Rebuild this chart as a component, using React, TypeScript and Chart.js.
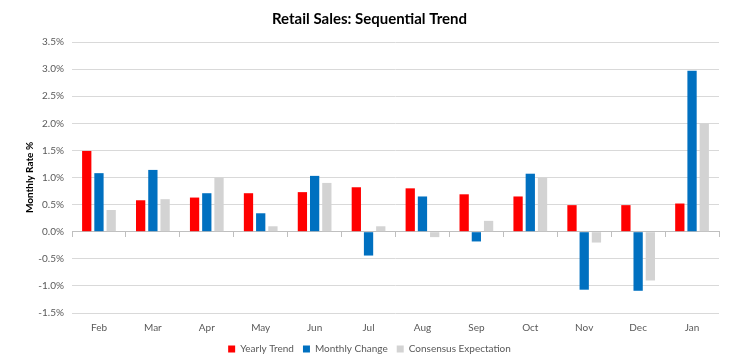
import React, { useEffect, useRef } from "react";
import { Chart, registerables } from "chart.js";

Chart.register(...registerables);

const categories = ["Feb", "Mar", "Apr", "May", "Jun", "Jul", "Aug", "Sep", "Oct", "Nov", "Dec", "Jan"];
const yearlyTrend = [1.49, 0.58, 0.63, 0.71, 0.73, 0.82, 0.8, 0.69, 0.65, 0.49, 0.49, 0.52];
const monthlyChange = [1.08, 1.14, 0.71, 0.34, 1.03, -0.44, 0.65, -0.18, 1.07, -1.07, -1.09, 2.97];
const consensus = [0.4, 0.6, 1.0, 0.1, 0.9, 0.1, -0.1, 0.2, 1.0, -0.2, -0.9, 2.0];
const yTicks = [-1.5, -1.0, -0.5, 0.0, 0.5, 1.0, 1.5, 2.0, 2.5, 3.0, 3.5];

const FONT = "Lato, 'Open Sans', sans-serif";

export default function App() {
  const ref = useRef<HTMLCanvasElement | null>(null);
  useEffect(() => {
    document.body.style.margin = "0";
    if (!ref.current) return;
    const chart = new Chart(ref.current, {
      type: "bar",
      data: {
        labels: categories,
        datasets: [
          { label: "Yearly Trend", data: yearlyTrend, backgroundColor: "#FF0000" },
          { label: "Monthly Change", data: monthlyChange, backgroundColor: "#0070C0" },
          { label: "Consensus Expectation", data: consensus, backgroundColor: "#D3D3D3" },
        ],
      },
      options: {
        animation: false,
        responsive: false,
        layout: { padding: { left: 20, right: 20, top: 4, bottom: 0 } },
        datasets: { bar: { categoryPercentage: 0.68, barPercentage: 0.76 } },
        plugins: {
          title: {
            display: true,
            text: "Retail Sales: Sequential Trend",
            color: "#000",
            font: { family: FONT, size: 15, weight: "bold" },
            padding: { top: 6, bottom: 14 },
          },
          legend: {
            position: "bottom",
            labels: {
              boxWidth: 7,
              boxHeight: 7,
              color: "#595959",
              font: { family: FONT, size: 10 },
              padding: 9,
            },
          },
          tooltip: { enabled: false },
        },
        scales: {
          x: {
            type: "category",
            position: "bottom",
            grid: { display: false },
            border: { display: false },
            ticks: { color: "#595959", font: { family: FONT, size: 10 }, padding: 1 },
          },
          x2: {
            type: "category",
            labels: categories,
            position: { y: 0 },
            offset: true,
            grid: { display: true, drawOnChartArea: false, drawTicks: true, tickLength: 5, color: "#BFBFBF" },
            border: { display: true, color: "#BFBFBF" },
            ticks: { display: false },
          },
          y: {
            min: -1.5,
            max: 3.5,
            afterBuildTicks: (axis: any) => {
              axis.ticks = yTicks.map((v) => ({ value: v }));
            },
            afterFit: (axis: any) => {
              axis.width = 52;
            },
            grid: { color: "#D9D9D9", drawTicks: false },
            border: { display: false },
            ticks: {
              color: "#595959",
              font: { family: FONT, size: 10 },
              padding: 8,
              callback: (v: any) => Number(v).toFixed(1) + "%",
            },
            title: {
              display: true,
              text: "Monthly Rate %",
              color: "#000",
              font: { family: FONT, size: 10, weight: "bold" },
              padding: { top: 4, bottom: 2 },
            },
          },
        },
      },
    });
    return () => chart.destroy();
  }, []);
  return <canvas ref={ref} width={739} height={364} style={{ display: "block" }} />;
}
